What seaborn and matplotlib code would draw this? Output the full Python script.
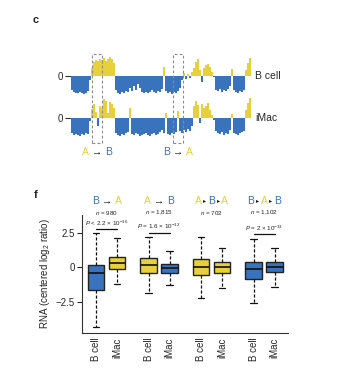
import numpy as np
import matplotlib
matplotlib.use("Agg")
import matplotlib.pyplot as plt
import seaborn as sns
from matplotlib.patches import Rectangle

# --- data: compartment tracks (signed PC1-like score per bin) ---
bcell_track = [-14, -16, -17, -17, -16, -17, -18, -17, -15, -4,
               8, 14, 16, 15, 17, 16, 18, 15, 17, 19,
               17, 13, -14, -17, -18, -16, -17, -15, -16, -12,
               -15, -10, -14, -8, -12, -16, -17, -16, -17, -16,
               -14, -16, -17, -15, -16, -13, 9, -15, -17, -16,
               -18, -16, -17, -15, -12, -4, 3, -3, 2, -2,
               4, 8, 14, 17, 6, -6, 8, 11, 12, 9,
               4, -1, -14, -15, -13, -16, -14, -15, -13, -10,
               7, -14, -16, -17, -15, -16, -14, 6, 13, 18]
imac_track = [-15, -17, -16, -17, -18, -16, -17, -15, -16, -3,
              9, 14, 6, -8, 12, 10, 19, 17, 5, 16,
              14, 10, -15, -17, -18, -16, -17, -15, -14, 10,
              -16, -17, -15, -16, -18, -17, -16, -15, -17, -18,
              -16, -15, -17, -16, -14, -12, -15, 5, -16, -17,
              -15, -16, -14, 7, -13, -15, -12, -14, -11, -13,
              -8, 12, 17, 13, -5, 14, 10, 12, 15, 8,
              3, -2, -13, -15, -16, -14, -17, -15, -16, -12,
              4, -15, -16, -17, -15, -14, -13, 8, 15, 20]
track_names = ["B cell", "iMac"]
switch_regions = [(10.0, 15.0), (50.7, 55.3)]
ARROW = " \u2192 "
TRI = "\u25b8"
switch_labels = [[("A", "y"), (ARROW, "k"), ("B", "b")],
                 [("B", "b"), (ARROW, "k"), ("A", "y")]]

# --- data: RNA boxplot summary stats ---
groups = [[("B", "b"), (ARROW, "k"), ("A", "y")],
          [("A", "y"), (ARROW, "k"), ("B", "b")],
          [("A", "y"), (TRI, "k"), ("B", "b"), (TRI, "k"), ("A", "y")],
          [("B", "b"), (TRI, "k"), ("A", "y"), (TRI, "k"), ("B", "b")]]
n_labels = ["980", "1,815", "702", "1,102"]
p_labels = ["$P$ < 2.2 \u00d7 10$^{-16}$", "$P$ = 1.6 \u00d7 10$^{-12}$", None,
            "$P$ = 2 \u00d7 10$^{-13}$"]
p_line_y = [2.73, 2.49, None, 2.37]
cells = ["B cell", "iMac"] * 4
box_state = ["b", "y", "y", "b", "y", "y", "b", "b"]
q1 = [-1.67, -0.17, -0.41, -0.41, -0.58, -0.41, -0.85, -0.38]
med = [-0.41, 0.27, 0.14, -0.05, 0.02, -0.02, -0.14, -0.02]
q3 = [0.14, 0.75, 0.63, 0.22, 0.60, 0.38, 0.38, 0.38]
whislo = [-4.32, -1.25, -1.91, -1.33, -2.27, -1.55, -2.58, -1.47]
whishi = [2.44, 2.08, 2.15, 1.13, 2.20, 1.40, 2.05, 1.40]

BLUE = "#3a73bd"
YELLOW = "#e8cf3c"
cmap = {"b": BLUE, "y": YELLOW, "k": "#1a1a1a"}

sns.set_style("ticks")
plt.rcParams['font.family'] = ['Liberation Sans', 'DejaVu Sans']
plt.rcParams['mathtext.fontset'] = 'custom'
plt.rcParams['mathtext.rm'] = 'Liberation Sans'
plt.rcParams['mathtext.it'] = 'Liberation Sans:italic'

W, H = 352, 379
fig = plt.figure(figsize=(W / 100, H / 100), dpi=100)
fig.set_facecolor("white")


def px_axes(left, top, right, bottom):
    return fig.add_axes([left / W, 1 - bottom / H, (right - left) / W, (bottom - top) / H])


def color_text(ax, x, y, parts, size):
    # middle piece centered, others chained to each side (triangles drawn smaller)
    def style(txt):
        if txt == TRI:
            return dict(fontsize=size * 0.6)
        if txt == ARROW:
            return dict(fontsize=size, fontweight="bold")
        return dict(fontsize=size)
    mid = len(parts) // 2
    t0 = ax.text(x, y, parts[mid][0], color=cmap[parts[mid][1]], ha="center", va="center",
                 clip_on=False, **style(parts[mid][0]))
    for side, seq in ((1, parts[mid + 1:]), (-1, list(reversed(parts[:mid])))):
        prev, prev_txt = t0, parts[mid][0]
        for txt, c in seq:
            gap = 1.2 if TRI in (txt, prev_txt) else 0
            prev = ax.annotate(txt, xy=(1 if side > 0 else 0, 0.5), xycoords=prev,
                               xytext=(side * gap, 0), textcoords="offset points",
                               ha="left" if side > 0 else "right", va="center",
                               color=cmap[c], annotation_clip=False, **style(txt))
            prev_txt = txt


# --- panel c: tracks ---
ax1 = px_axes(71, 50, 251, 145)
offsets = [0, -42]
for vals, off in zip([bcell_track, imac_track], offsets):
    vals = np.array(vals)
    cols = [BLUE if v < 0 else YELLOW for v in vals]
    ax1.bar(np.arange(len(vals)), vals, width=1.0, bottom=off, color=cols, linewidth=0)
ax1.set_xlim(-0.5, len(bcell_track) - 0.5)
ax1.set_ylim(-69, 26)
for s in ax1.spines.values():
    s.set_visible(False)
ax1.set_xticks([])
ax1.set_yticks(offsets)
ax1.set_yticklabels(["0", "0"], fontsize=7)
ax1.tick_params(axis="y", length=4.5, width=0.8, pad=1.5, color="#333333")
for name, off in zip(track_names, offsets):
    ax1.text(1.025, off, name, transform=ax1.get_yaxis_transform(), fontsize=7.5,
             ha="left", va="center", clip_on=False)
for (x0, x1), lab in zip(switch_regions, switch_labels):
    ax1.add_patch(Rectangle((x0, -67), x1 - x0, 89, fill=False, ec="#8a8a8a", lw=0.8,
                            ls=(0, (2.5, 2)), clip_on=False))
    color_text(ax1, (x0 + x1) / 2, -76, lab, 7.5)

# --- panel f: boxplots ---
ax2 = px_axes(82, 215, 288, 333)
positions = [0, 1, 2.5, 3.5, 5, 6, 7.5, 8.5]
stats = [dict(med=m, q1=a, q3=b, whislo=lo, whishi=hi, fliers=[])
         for m, a, b, lo, hi in zip(med, q1, q3, whislo, whishi)]
bp = ax2.bxp(stats, positions=positions, widths=0.8, patch_artist=True,
             showfliers=False,
             boxprops=dict(edgecolor="#222222", linewidth=1.0),
             medianprops=dict(color="#111111", linewidth=1.2),
             whiskerprops=dict(color="#111111", linewidth=0.9, linestyle=(0, (2.5, 1.5))),
             capprops=dict(color="#111111", linewidth=0.9), capwidths=0.3)
for patch, st in zip(bp["boxes"], box_state):
    patch.set_facecolor(cmap[st])

ax2.set_xlim(-0.67, 9.14)
ax2.set_ylim(-4.78, 3.77)
ax2.set_yticks([-2.5, 0, 2.5])
ax2.set_yticklabels(["\u22122.5", "0", "2.5"], fontsize=7)
ax2.set_xticks(positions)
ax2.set_xticklabels(cells, rotation=90, fontsize=7)
ax2.tick_params(axis="x", length=0, pad=3.5)
ax2.tick_params(axis="y", length=3.5, width=0.8, pad=1.5)
sns.despine(ax=ax2)
for s in ["left", "bottom"]:
    ax2.spines[s].set_linewidth(0.8)
    ax2.spines[s].set_color("#333333")
ax2.set_ylabel("RNA (centered log$_2$ ratio)", fontsize=7, labelpad=3)

for g in range(4):
    xa, xb = positions[2 * g], positions[2 * g + 1]
    xc = (xa + xb) / 2
    color_text(ax2, xc, 4.82, groups[g], 7.5)
    ax2.text(xc, 3.91, r"$n$ = " + n_labels[g], fontsize=4.5, ha="center", va="center",
             clip_on=False, color="#222222")
    if p_labels[g] is not None:
        ly = p_line_y[g]
        ax2.plot([xa, xb], [ly, ly], color="#111111", lw=0.9, clip_on=False)
        ax2.text(xc, ly + 0.1, p_labels[g], fontsize=4.5, ha="center", va="bottom",
                 clip_on=False, color="#222222")

fig.text(36 / W, 1 - 20 / H, "c", fontsize=8, fontweight="bold", ha="center", va="center")
fig.text(36 / W, 1 - 195 / H, "f", fontsize=8, fontweight="bold", ha="center", va="center")

fig.savefig("out.png", dpi=100, facecolor="white")
